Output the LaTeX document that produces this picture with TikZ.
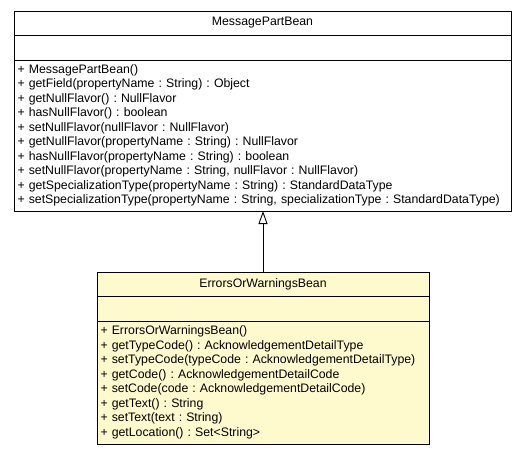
\documentclass[tikz,border=0pt]{standalone}
\usepackage{fontspec}
\setmainfont{Liberation Sans}
\usetikzlibrary{positioning,arrows.meta}
\definecolor{umlFill}{RGB}{255,250,205}
\tikzset{
 uml box/.style={draw=black,line width=.9pt,inner sep=0pt,outer sep=0pt,
                 font=\fontsize{12.3}{14.5}\selectfont\frenchspacing},
 uml title/.style={uml box,minimum height=24pt},
 uml attrs/.style={uml box,minimum height=25pt},
 uml ops/.style={uml box,align=left,inner xsep=3.5pt},
 uml inherit/.style={line width=.9pt,-{Triangle[open,length=13pt,width=9pt]}}
}
\begin{document}
\begin{tikzpicture}[x=1pt,y=-1pt]
 \useasboundingbox (0,0) rectangle (525,456);

 % Superclass
 \node[uml title,minimum width=497pt,anchor=north west] (mpbTitle) at (14,11) {MessagePartBean};
 \node[uml attrs,minimum width=497pt,below=0pt of mpbTitle] (mpbAttrs) {};
 \node[uml ops,text width=490pt,minimum height=151pt,below=0pt of mpbAttrs] (mpbOps) {%
  + MessagePartBean()\\
  + getField(propertyName : String) : Object\\
  + getNullFlavor() : NullFlavor\\
  + hasNullFlavor() : boolean\\
  + setNullFlavor(nullFlavor : NullFlavor)\\
  + getNullFlavor(propertyName : String) : NullFlavor\\
  + hasNullFlavor(propertyName : String) : boolean\\
  + setNullFlavor(propertyName : String, nullFlavor : NullFlavor)\\
  + getSpecializationType(propertyName : String) : StandardDataType\\
  + setSpecializationType(propertyName : String, specializationType : StandardDataType)};

 % Subclass
 \node[uml title,fill=umlFill,minimum width=332pt,anchor=north west] (ewbTitle) at (97,272) {ErrorsOrWarningsBean};
 \node[uml attrs,fill=umlFill,minimum width=332pt,below=0pt of ewbTitle] (ewbAttrs) {};
 \node[uml ops,fill=umlFill,text width=325pt,minimum height=123pt,below=0pt of ewbAttrs] (ewbOps) {%
  + ErrorsOrWarningsBean()\\
  + getTypeCode() : AcknowledgementDetailType\\
  + setTypeCode(typeCode : AcknowledgementDetailType)\\
  + getCode() : AcknowledgementDetailCode\\
  + setCode(code : AcknowledgementDetailCode)\\
  + getText() : String\\
  + setText(text : String)\\
  + getLocation() : Set<String>};

 \draw[uml inherit] (ewbTitle.north) -- (ewbTitle.north |- mpbOps.south);
\end{tikzpicture}
\end{document}
